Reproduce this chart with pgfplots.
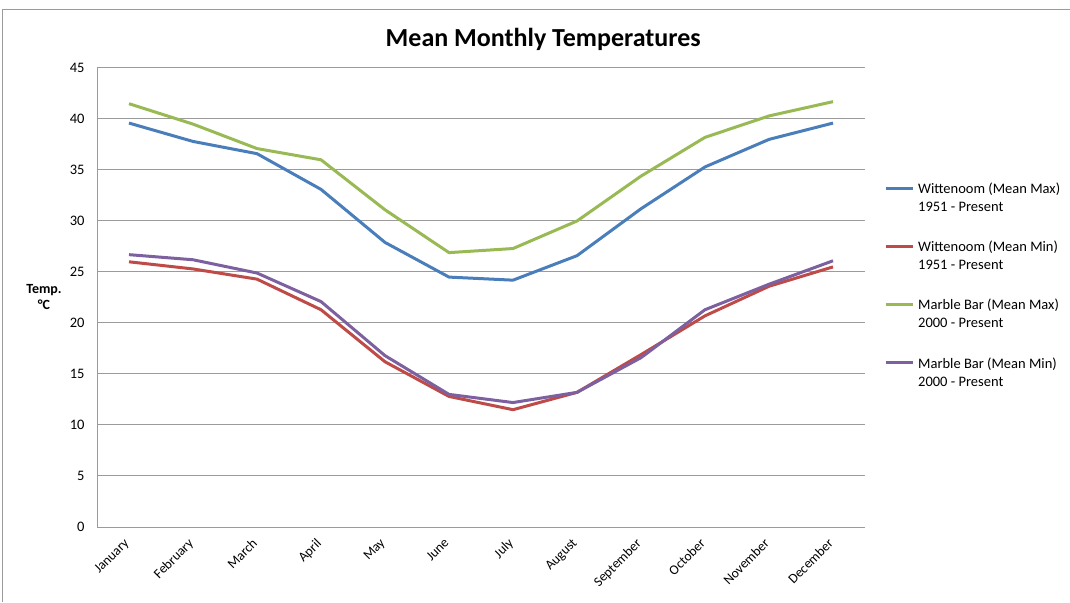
\documentclass[border=0pt]{standalone}
\usepackage{pgfplots}
\pgfplotsset{compat=1.18}
\usepackage{fontspec}
\setmainfont{Carlito}
\definecolor{cblue}{RGB}{74,126,187}
\definecolor{cred}{RGB}{190,75,72}
\definecolor{cgreen}{RGB}{152,185,84}
\definecolor{cpurple}{RGB}{125,96,160}
\definecolor{cgrid}{RGB}{155,155,155}
\begin{document}
\begin{tikzpicture}
\useasboundingbox (0,0) rectangle (1070pt,602pt);
\draw[cgrid, line width=1pt] (2.7pt,0) -- (2.7pt,592.5pt) -- (1070pt,592.5pt);
\begin{axis}[
  at={(97pt,75pt)}, anchor=south west,
  scale only axis, width=768pt, height=459pt,
  xmin=-0.5, xmax=11.5, ymin=0, ymax=45,
  xtick={0,...,11},
  xticklabels={January,February,March,April,May,June,July,August,September,October,November,December},
  ytick={0,5,...,45},
  axis x line*=bottom, axis y line*=left,
  axis line style={cgrid, line width=1pt, -},
  major tick length=0pt,
  ymajorgrids, grid style={cgrid, line width=1pt},
  /pgf/number format/assume math mode=true,
  yticklabel style={xshift=-9pt, font=\fontsize{14.5}{17}\selectfont},
  xticklabel style={rotate=45, anchor=north east, xshift=-8pt, yshift=0pt, font=\fontsize{13.6}{16}\selectfont},
  title={Mean Monthly Temperatures},
  title style={font=\bfseries\fontsize{26}{30}\selectfont, at={(axis description cs:0.581,1.05)}, anchor=center},
  ylabel={Temp.\\°C},
  ylabel style={rotate=-90, align=center, font=\bfseries\fontsize{14}{16}\selectfont, at={(axis description cs:-0.069,0.501)}, anchor=center},
  legend cell align=left,
  legend style={draw=none, fill=none, at={(axis description cs:1.0208,0.754)}, anchor=north west,
    nodes={align=left, inner sep=0pt, font=\fontsize{14.5}{18}\selectfont},
    row sep=28pt, column sep=4pt},
  legend image code/.code={\draw[#1] (0pt,10pt) -- (27pt,10pt);},
  every axis plot/.append style={line width=3pt, line join=round},
]
\addplot[cblue] coordinates {(0,39.6)(1,37.8)(2,36.6)(3,33.1)(4,27.9)(5,24.5)(6,24.2)(7,26.6)(8,31.2)(9,35.3)(10,38.0)(11,39.6)};
\addlegendentry{Wittenoom (Mean Max)\\1951 - Present}
\addplot[cred] coordinates {(0,26.0)(1,25.3)(2,24.3)(3,21.3)(4,16.2)(5,12.8)(6,11.5)(7,13.2)(8,16.9)(9,20.7)(10,23.6)(11,25.5)};
\addlegendentry{Wittenoom (Mean Min)\\1951 - Present}
\addplot[cgreen] coordinates {(0,41.5)(1,39.5)(2,37.1)(3,36.0)(4,31.1)(5,26.9)(6,27.3)(7,30.0)(8,34.4)(9,38.2)(10,40.3)(11,41.7)};
\addlegendentry{Marble Bar (Mean Max)\\2000 - Present}
\addplot[cpurple] coordinates {(0,26.7)(1,26.2)(2,24.9)(3,22.1)(4,16.8)(5,13.0)(6,12.2)(7,13.2)(8,16.6)(9,21.3)(10,23.8)(11,26.1)};
\addlegendentry{Marble Bar (Mean Min)\\2000 - Present}
\end{axis}
\end{tikzpicture}
\end{document}
